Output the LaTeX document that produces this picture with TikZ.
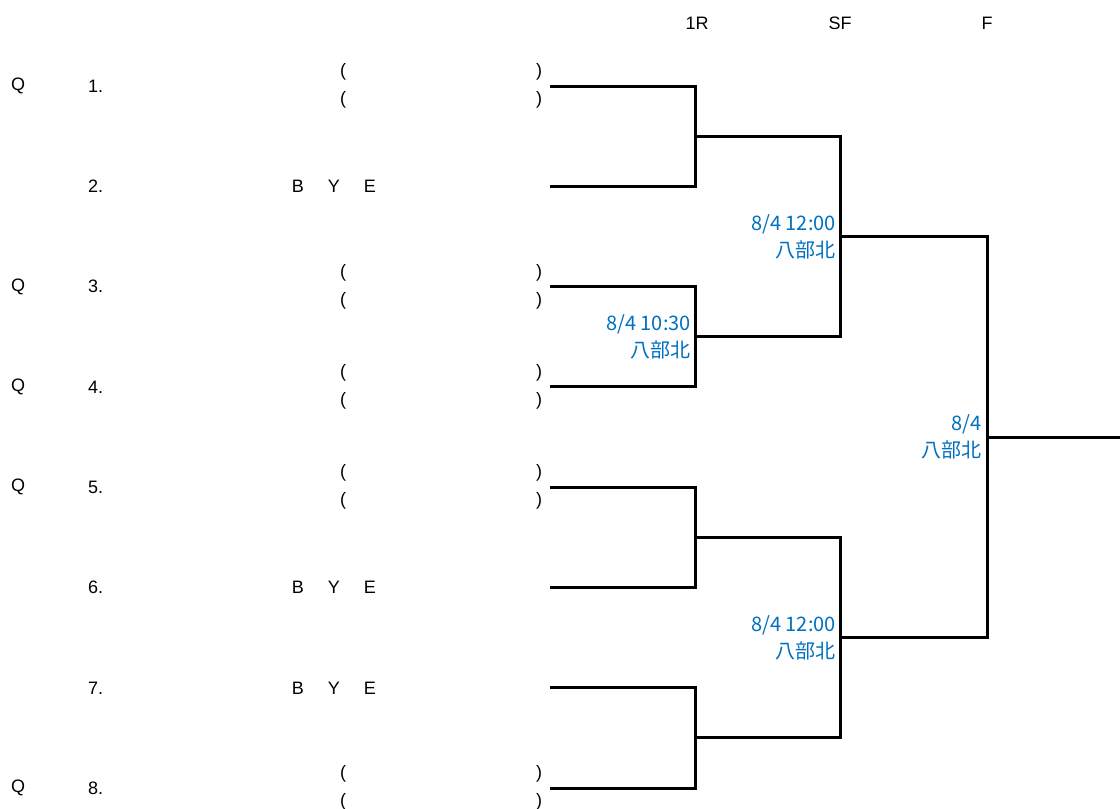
\documentclass[tikz,border=0pt]{standalone}
\usepackage{fontspec}
\setmainfont{Liberation Sans}
\newfontfamily\jpfont{Noto Sans CJK JP}
\definecolor{infoblue}{HTML}{0070C0}
\begin{document}
\begin{tikzpicture}[x=1pt,y=-1pt,
  bline/.style={line width=3pt,line join=miter,black},
  lbl/.style={font=\fontsize{18}{20}\selectfont,inner sep=0pt},
  info/.style={font=\jpfont\fontsize{20}{27}\selectfont,text=infoblue,align=right,anchor=east,inner sep=0pt}]
\useasboundingbox (0,0) rectangle (1120,809);
% headers
\node[lbl] (h1) at (697,23) {1R};
\node[lbl] (h2) at (840,23) {SF};
\node[lbl] (h3) at (987,23) {F};
% rows
\foreach \k/\q/\bye in {1/Q/0,2//1,3/Q/0,4/Q/0,5/Q/0,6//1,7//1,8/Q/0}{
  \pgfmathsetmacro{\yy}{86+100.3*(\k-1)}
  \coordinate (a\k) at (550,\yy);
  \node[lbl] (q\k) at (18,\yy) {\q};
  \node[lbl,anchor=west] (n\k) at (88,\yy) {\k.};
  \ifnum\bye=1
    \node[lbl] (b\k) at (334,\yy) {B\hspace{24pt}Y\hspace{24pt}E};
  \else
    \node[lbl] (pl\k a) at (343,\yy-14) {(};
    \node[lbl] (pl\k b) at (343,\yy+14) {(};
    \node[lbl] (pr\k a) at (539,\yy-14) {)};
    \node[lbl] (pr\k b) at (539,\yy+14) {)};
  \fi
}
% junctions
\coordinate (j1) at (695,136.15);
\coordinate (j2) at (695,336.75);
\coordinate (j3) at (695,537.35);
\coordinate (j4) at (695,737.95);
\coordinate (s1) at (840,236.45);
\coordinate (s2) at (840,637.65);
\coordinate (f) at (987,437.05);
\coordinate (w) at (1120,437.05);
% first round
\draw[bline] (a1) -| (j1) |- (a2);
\draw[bline] (a3) -| (j2) |- (a4);
\draw[bline] (a5) -| (j3) |- (a6);
\draw[bline] (a7) -| (j4) |- (a8);
% semifinals
\draw[bline] (j1) -| (s1) |- (j2);
\draw[bline] (j3) -| (s2) |- (j4);
% final
\draw[bline] (s1) -| (f) |- (s2);
\draw[bline] (f) -- (w);
% match info
\node[info] (i2) at (691,336.75) {8/4 10:30\\八部北};
\node[info] (i5) at (836,236.45) {8/4 12:00\\八部北};
\node[info] (i6) at (836,637.65) {8/4 12:00\\八部北};
\node[info] (i7) at (982,437.05) {8/4\\八部北};
\end{tikzpicture}
\end{document}
